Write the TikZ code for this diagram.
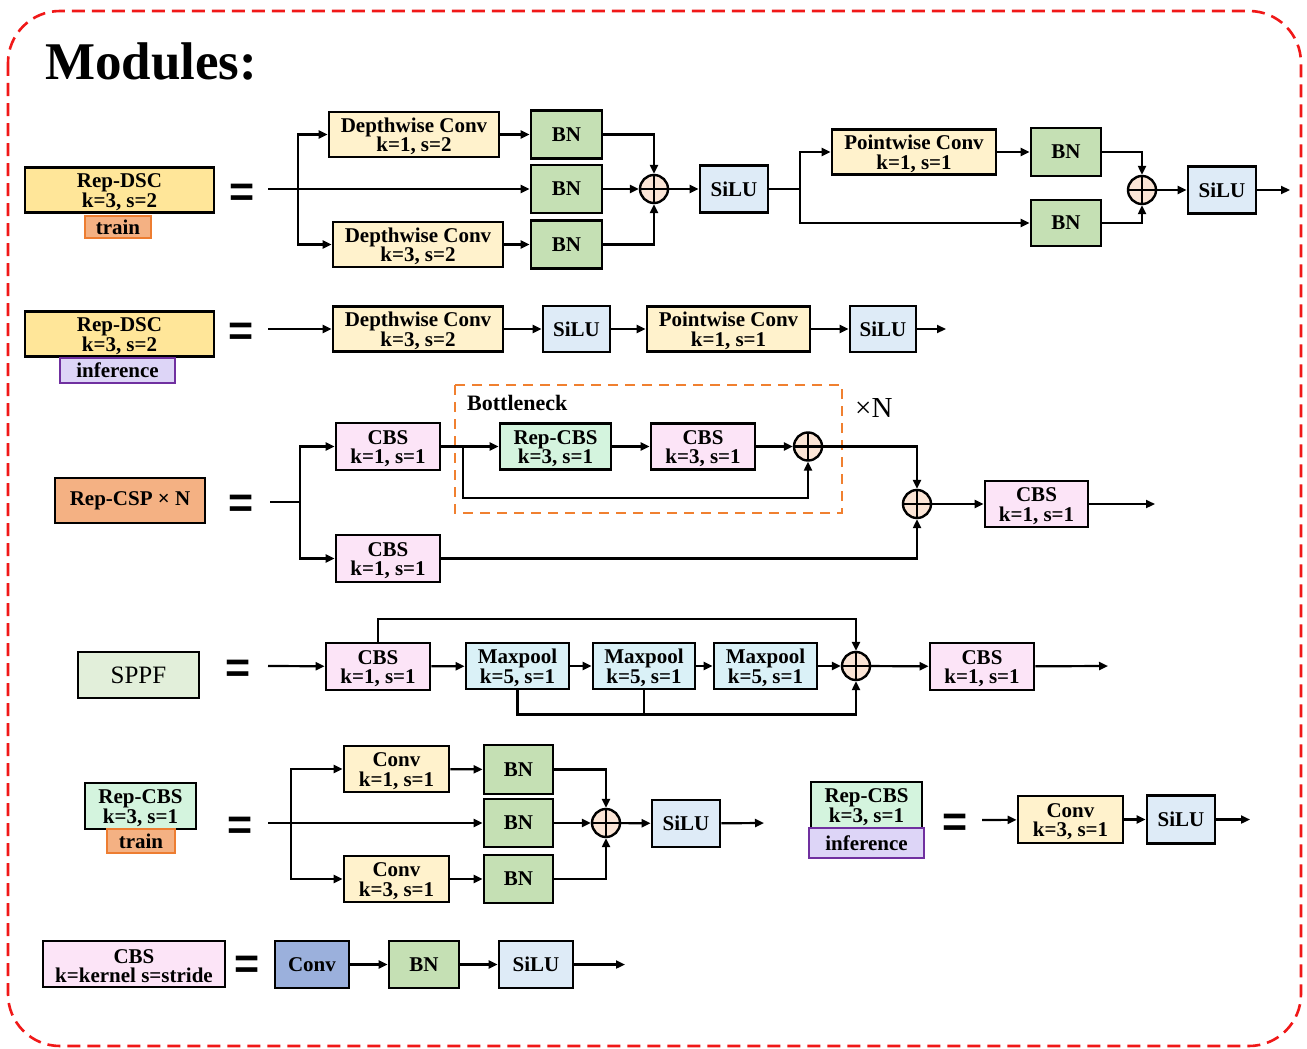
\documentclass[tikz,border=0pt]{standalone}
\usepackage{fontspec}
\setmainfont{Liberation Serif}
\newfontfamily\eqfont{Liberation Sans}
\usetikzlibrary{arrows.meta}
\newcommand\up{\rule{0pt}{18pt}}
\definecolor{cgold}{HTML}{FFE699}
\definecolor{ctrain}{HTML}{F4B183}
\definecolor{ctrainb}{HTML}{ED7D31}
\definecolor{cinf}{HTML}{DDD5F7}
\definecolor{cinfb}{HTML}{7030A0}
\definecolor{cconvl}{HTML}{FFF2CC}
\definecolor{cbn}{HTML}{C5E0B4}
\definecolor{csilu}{HTML}{DEEBF7}
\definecolor{ccsp}{HTML}{F4B183}
\definecolor{ccbs}{HTML}{FCE4F7}
\definecolor{crep}{HTML}{D4F4DE}
\definecolor{ccyan}{HTML}{DAF1F7}
\definecolor{csppf}{HTML}{E2EFDA}
\definecolor{cconv}{HTML}{9BB0DC}
\definecolor{cop}{HTML}{FBE5D6}
\definecolor{cframe}{HTML}{F01818}
\definecolor{cbott}{HTML}{F08030}
\begin{document}
\begin{tikzpicture}[x=1pt,y=-1pt,
  font=\bfseries\fontsize{21}{19.5}\selectfont,
  bx/.style={draw, line width=2.8pt, inner sep=0pt, align=center},
  tag/.style={draw, line width=2pt, inner sep=0pt, align=center},
  ln/.style={line width=2.2pt},
  arr/.style={line width=2.2pt, -{Triangle[length=9pt,width=8pt]}},
  op/.style={circle, draw, line width=2.4pt, fill=cop, minimum size=28pt, inner sep=0pt,
    path picture={\draw[line width=2.2pt] (path picture bounding box.north) -- (path picture bounding box.south)
      (path picture bounding box.west) -- (path picture bounding box.east);}},
  eqs/.style={font=\eqfont\bfseries\fontsize{43}{43}\selectfont, inner sep=0pt}
]
\useasboundingbox (0,0) rectangle (1307,1049);
\draw[cframe, line width=2.6pt, dash pattern=on 13pt off 7pt, rounded corners=52pt] (8,11) rectangle (1301,1046);
\node[anchor=base west, inner sep=0pt, font=\bfseries\fontsize{53}{53}\selectfont] (title) at (45,80) {Modules:};

% ---------- Row 1: Rep-DSC train ----------
\node[bx, fill=cgold, minimum width=189, minimum height=45] (rd1) at (119.5,190) {\up Rep-DSC\\k=3, s=2};
\node[tag, fill=ctrain, draw=ctrainb, minimum width=66, minimum height=22] (tr1) at (118,227) {train};
\node[eqs] (eq1) at (242,195) {=};
\coordinate (in1) at (268,189);
\coordinate (s1) at (298,189);
\node[bx, fill=cconvl, minimum width=170, minimum height=45] (dc1) at (414,134.5) {\up Depthwise Conv\\k=1, s=2};
\node[bx, fill=cconvl, minimum width=170, minimum height=45] (dc2) at (418,244.5) {\up Depthwise Conv\\k=3, s=2};
\node[bx, fill=cbn, minimum width=71, minimum height=48] (bn1) at (566.5,134.5) {BN};
\node[bx, fill=cbn, minimum width=71, minimum height=48] (bn2) at (566.5,189) {BN};
\node[bx, fill=cbn, minimum width=71, minimum height=48] (bn3) at (566.5,244.5) {BN};
\node[op] (op1) at (654,189) {};
\node[bx, fill=csilu, minimum width=68, minimum height=47] (si1) at (734,189) {SiLU};
\coordinate (s2) at (800,189);
\node[bx, fill=cconvl, minimum width=164, minimum height=45] (pw1) at (914,152) {\up Pointwise Conv\\k=1, s=1};
\node[bx, fill=cbn, minimum width=70, minimum height=48] (bn4) at (1066,152) {BN};
\node[bx, fill=cbn, minimum width=70, minimum height=46] (bn5) at (1066,223) {BN};
\node[op] (op2) at (1142,190) {};
\node[bx, fill=csilu, minimum width=68, minimum height=47] (si2) at (1222,190) {SiLU};
\coordinate (out1) at (1290,190);
\draw[arr] (in1) -- (bn2.west);
\draw[arr] (s1) |- (dc1.west);
\draw[arr] (s1) |- (dc2.west);
\draw[arr] (dc1) -- (bn1);
\draw[arr] (dc2) -- (bn3);
\draw[arr] (bn1.east) -| (op1.north);
\draw[arr] (bn2) -- (op1);
\draw[arr] (bn3.east) -| (op1.south);
\draw[arr] (op1) -- (si1);
\draw[ln] (si1.east) -- (s2);
\draw[arr] (s2) |- (pw1.west);
\draw[arr] (s2) |- (bn5.west);
\draw[arr] (pw1) -- (bn4);
\draw[arr] (bn4.east) -| (op2.north);
\draw[arr] (bn5.east) -| (op2.south);
\draw[arr] (op2) -- (si2);
\draw[arr] (si2) -- (out1);

% ---------- Row 2: Rep-DSC inference ----------
\node[bx, fill=cgold, minimum width=189, minimum height=45] (rd2) at (119.5,334) {\up Rep-DSC\\k=3, s=2};
\node[tag, fill=cinf, draw=cinfb, minimum width=115, minimum height=25] (inf1) at (117.5,370.5) {inference};
\node[eqs] (eq2) at (241,334) {=};
\coordinate (in2) at (268,329);
\node[bx, fill=cconvl, minimum width=170, minimum height=45] (dc3) at (418,329) {\up Depthwise Conv\\k=3, s=2};
\node[bx, fill=csilu, minimum width=67, minimum height=46] (si3) at (576.5,329) {SiLU};
\node[bx, fill=cconvl, minimum width=163, minimum height=45] (pw2) at (728.5,329) {\up Pointwise Conv\\k=1, s=1};
\node[bx, fill=csilu, minimum width=66, minimum height=46] (si4) at (883,329) {SiLU};
\coordinate (out2) at (946,329);
\draw[arr] (in2) -- (dc3);
\draw[arr] (dc3) -- (si3);
\draw[arr] (si3) -- (pw2);
\draw[arr] (pw2) -- (si4);
\draw[arr] (si4) -- (out2);

% ---------- Row 3: Rep-CSP ----------
\node[bx, fill=ccsp, minimum width=150, minimum height=45] (csp) at (130,500.5) {Rep-CSP × N};
\node[eqs] (eq3) at (241,506) {=};
\coordinate (in3) at (270,502);
\coordinate (s3) at (300,502);
\node[bx, fill=ccbs, minimum width=104, minimum height=47] (cbs1) at (388,446.5) {\up CBS\\k=1, s=1};
\node[bx, fill=ccbs, minimum width=104, minimum height=47] (cbs2) at (388,558.5) {\up CBS\\k=1, s=1};
\draw[cbott, line width=2.4pt, dash pattern=on 10pt off 7pt] (455,385) rectangle (842,513);
\node[anchor=base west, inner sep=0pt, font=\bfseries\fontsize{22}{22}\selectfont] (bneck) at (467,410) {Bottleneck};
\node[anchor=base west, inner sep=0pt, font=\mdseries\fontsize{29}{29}\selectfont] (xn) at (855,417) {×N};
\coordinate (s4) at (463,446.5);
\node[bx, fill=crep, minimum width=111, minimum height=46] (rcbs1) at (555.5,446.5) {\up Rep-CBS\\k=3, s=1};
\node[bx, fill=ccbs, minimum width=104, minimum height=46] (cbs3) at (703,446.5) {\up CBS\\k=3, s=1};
\node[op] (op3) at (808,446.5) {};
\node[op] (op4) at (917,504) {};
\node[bx, fill=ccbs, minimum width=103, minimum height=46] (cbs4) at (1036.5,504) {\up CBS\\k=1, s=1};
\coordinate (out3) at (1155,504);
\draw[ln] (in3) -- (s3);
\draw[arr] (s3) |- (cbs1.west);
\draw[arr] (s3) |- (cbs2.west);
\draw[arr] (cbs1) -- (rcbs1);
\draw[arr] (s4) -- ++(0,51.5) -| (op3.south);
\draw[arr] (rcbs1) -- (cbs3);
\draw[arr] (cbs3) -- (op3);
\draw[arr] (op3.east) -| (op4.north);
\draw[arr] (cbs2.east) -| (op4.south);
\draw[arr] (op4) -- (cbs4);
\draw[arr] (cbs4) -- (out3);

% ---------- Row 4: SPPF ----------
\node[bx, fill=csppf, minimum width=121, minimum height=46, font=\mdseries\fontsize{25}{25}\selectfont] (sppf) at (138.5,675) {SPPF};
\node[eqs] (eq4) at (238,671) {=};
\coordinate (in4) at (268,666);
\node[bx, fill=ccbs, minimum width=104, minimum height=47] (cbs5) at (378,666.5) {\up CBS\\k=1, s=1};
\node[bx, fill=ccyan, minimum width=103, minimum height=46] (mp1) at (517.5,666) {\up Maxpool\\k=5, s=1};
\node[bx, fill=ccyan, minimum width=102, minimum height=46] (mp2) at (644,666) {\up Maxpool\\k=5, s=1};
\node[bx, fill=ccyan, minimum width=103, minimum height=46] (mp3) at (765.5,666) {\up Maxpool\\k=5, s=1};
\node[op] (op5) at (856,666) {};
\node[bx, fill=ccbs, minimum width=104, minimum height=47] (cbs6) at (982,666.5) {\up CBS\\k=1, s=1};
\coordinate (out4) at (1108,666);
\draw[arr] (in4) -- (cbs5);
\draw[arr] (cbs5) -- (mp1);
\draw[arr] (mp1) -- (mp2);
\draw[arr] (mp2) -- (mp3);
\draw[arr] (mp3) -- (op5);
\draw[arr] (op5) -- (cbs6);
\draw[arr] (cbs6) -- (out4);
\draw[arr] (cbs5.north) -- ++(0,-23) -| (op5.north);
\draw[arr] (mp1.south) -- ++(0,24) -| (op5.south);
\draw[ln] (mp2.south) -- ++(0,24);

% ---------- Row 5: Rep-CBS train ----------
\node[bx, fill=crep, minimum width=111, minimum height=46] (rcbs2) at (140.5,806) {\up Rep-CBS\\k=3, s=1};
\node[tag, fill=ctrain, draw=ctrainb, minimum width=68, minimum height=24] (tr2) at (141,841) {train};
\node[eqs] (eq5) at (240,828) {=};
\coordinate (in5) at (268,823);
\coordinate (s5) at (291,823);
\node[bx, fill=cconvl, minimum width=105, minimum height=46] (cv1) at (396.5,769) {\up Conv\\k=1, s=1};
\node[bx, fill=cconvl, minimum width=105, minimum height=46] (cv2) at (396.5,879) {\up Conv\\k=3, s=1};
\node[bx, fill=cbn, minimum width=69, minimum height=49] (bn6) at (518.5,769.5) {BN};
\node[bx, fill=cbn, minimum width=69, minimum height=48] (bn7) at (518.5,823) {BN};
\node[bx, fill=cbn, minimum width=69, minimum height=48] (bn8) at (518.5,879) {BN};
\node[op] (op6) at (606,823) {};
\node[bx, fill=csilu, minimum width=68, minimum height=47] (si5) at (686,823.5) {SiLU};
\coordinate (out5) at (764,823);
\draw[arr] (in5) -- (bn7.west);
\draw[arr] (s5) |- (cv1.west);
\draw[arr] (s5) |- (cv2.west);
\draw[arr] (cv1) -- (bn6);
\draw[arr] (cv2) -- (bn8);
\draw[arr] (bn6.east) -| (op6.north);
\draw[arr] (bn7) -- (op6);
\draw[arr] (bn8.east) -| (op6.south);
\draw[arr] (op6) -- (si5);
\draw[arr] (si5) -- (out5);

% ---------- Rep-CBS inference ----------
\node[bx, fill=crep, minimum width=111, minimum height=46] (rcbs3) at (866.5,805) {\up Rep-CBS\\k=3, s=1};
\node[tag, fill=cinf, draw=cinfb, line width=2.4pt, minimum width=115, minimum height=30] (inf2) at (866.5,843) {inference};
\node[eqs] (eq6) at (955,825) {=};
\coordinate (in6) at (982,820);
\node[bx, fill=cconvl, minimum width=105, minimum height=47] (cv3) at (1070.5,819.5) {\up Conv\\k=3, s=1};
\node[bx, fill=csilu, minimum width=68, minimum height=48] (si6) at (1181,819.5) {SiLU};
\coordinate (out6) at (1250,819.5);
\draw[arr] (in6) -- (cv3);
\draw[arr] (cv3) -- (si6);
\draw[arr] (si6) -- (out6);

% ---------- Row 6: CBS ----------
\node[bx, fill=ccbs, minimum width=182, minimum height=46] (cbsdef) at (134,964) {\up CBS\\k=kernel s=stride};
\node[eqs] (eq7) at (247,967) {=};
\node[bx, fill=cconv, minimum width=74, minimum height=47] (conv) at (312,964.5) {Conv};
\node[bx, fill=cbn, minimum width=70, minimum height=47] (bn9) at (424,964.5) {BN};
\node[bx, fill=csilu, minimum width=74, minimum height=47] (si7) at (536,964.5) {SiLU};
\coordinate (out7) at (625,964.5);
\draw[arr] (conv) -- (bn9);
\draw[arr] (bn9) -- (si7);
\draw[arr] (si7) -- (out7);
\end{tikzpicture}
\end{document}
